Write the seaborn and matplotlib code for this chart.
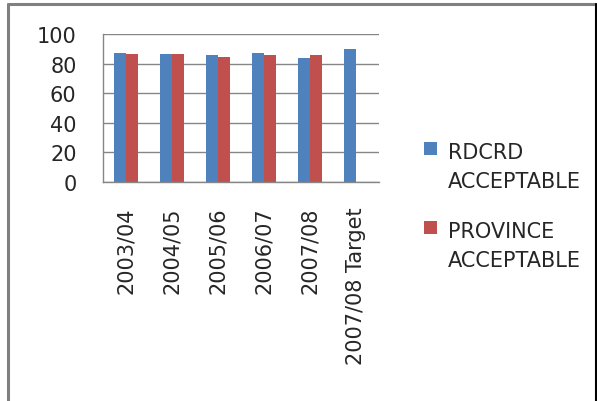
import matplotlib
matplotlib.use("Agg")
import matplotlib.pyplot as plt
import seaborn as sns
import pandas as pd
import numpy as np
from matplotlib.lines import Line2D
from matplotlib.patches import Patch, Rectangle
from matplotlib.legend_handler import HandlerBase

categories = ["2003/04", "2004/05", "2005/06", "2006/07", "2007/08", "2007/08 Target"]
rdcrd = [87.1, 86.2, 85.5, 87.1, 83.7, 89.8]
province = [86.2, 86.2, 84.6, 85.5, 85.5, None]
series_names = ["RDCRD\nACCEPTABLE", "PROVINCE\nACCEPTABLE"]
colors = ["#4F81BD", "#C0504D"]
yticks = [0, 20, 40, 60, 80, 100]

rows = []
for c, v in zip(categories, rdcrd):
    rows.append({"cat": c, "series": series_names[0], "value": v})
for c, v in zip(categories, province):
    if v is not None:
        rows.append({"cat": c, "series": series_names[1], "value": v})
df = pd.DataFrame(rows)

sns.set_style("white")
plt.rcParams['font.family'] = ['DejaVu Sans']

W, H = 597, 402
fig = plt.figure(figsize=(W / 100, H / 100), dpi=100)
ax = fig.add_axes([103 / W, 1 - 182.7 / H, (379 - 103) / W, (182.7 - 35) / H])

sns.barplot(data=df, x="cat", y="value", hue="series", order=categories,
            hue_order=series_names, palette=colors, width=0.54, gap=0,
            saturation=1, ax=ax, legend=False, errorbar=None, linewidth=0)

grid_c = "#868686"
ax.set_ylim(0, 100)
ax.set_xlim(-0.5, len(categories) - 0.5)
ax.set_yticks(yticks)
ax.set_yticklabels([str(t) for t in yticks], fontsize=15)
ax.yaxis.grid(True, color=grid_c, linewidth=1)
ax.set_axisbelow(True)
ax.set_xticks(range(len(categories)))
ax.set_xticklabels(categories, rotation=90, fontsize=15)
ax.tick_params(axis="x", length=0, pad=18)
ax.set_xticks(np.arange(-0.5, len(categories), 1.0), minor=True)
ax.tick_params(axis="x", which="minor", length=7, color=grid_c, width=1, direction="out")
ax.tick_params(axis="y", length=7, color=grid_c, width=1, direction="out", pad=12)
ax.set_xlabel("")
ax.set_ylabel("")
for s in ["top", "right"]:
    ax.spines[s].set_visible(False)
for s in ["left", "bottom"]:
    ax.spines[s].set_color(grid_c)
    ax.spines[s].set_linewidth(1)
ax.spines["bottom"].set_bounds(-0.5, len(categories) - 0.5)


class TopSquare(HandlerBase):
    def create_artists(self, legend, orig_handle, xdescent, ydescent,
                       width, height, fontsize, trans):
        s = 12.5 * 72 / 100
        top = -ydescent + height
        r = Rectangle((-xdescent, top - s + 3.0), s, s,
                      facecolor=orig_handle.get_facecolor(), edgecolor="none",
                      transform=trans)
        return [r]


handles = [Patch(facecolor=c, edgecolor=c) for c in colors]
leg = fig.legend(handles, series_names, loc="upper left",
                 bbox_to_anchor=(414 / W, 1 - 133 / H), frameon=False, fontsize=15,
                 handlelength=0.62, handleheight=2.9, handletextpad=0.5,
                 labelspacing=1.45, borderpad=0,
                 handler_map={Patch: TopSquare()})
for t in leg.get_texts():
    t.set_linespacing(1.55)

# outer frame
fig.add_artist(Line2D([8 / W, 1], [1 - 5 / H, 1 - 5 / H], color="#808080", linewidth=2.2, transform=fig.transFigure))
fig.add_artist(Line2D([8 / W, 8 / W], [0, 1 - 5 / H], color="#808080", linewidth=2.2, transform=fig.transFigure))
fig.add_artist(Line2D([595.5 / W, 595.5 / W], [0, 1 - 5 / H], color="#000000", linewidth=1.5, transform=fig.transFigure))

fig.savefig("out.png", dpi=100)
